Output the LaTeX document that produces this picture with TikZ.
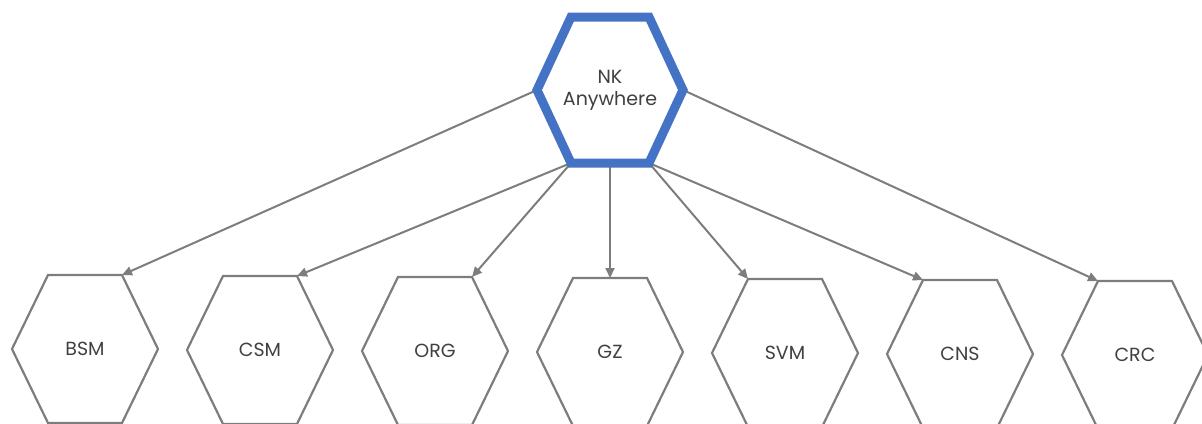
\documentclass[tikz,border=0pt]{standalone}
\usepackage{fontspec}
\setmainfont{Poppins}
\usetikzlibrary{calc,arrows.meta}
\definecolor{hexgray}{RGB}{125,125,125}
\definecolor{hexblue}{RGB}{68,114,196}
\definecolor{txtgray}{RGB}{64,64,64}
\tikzset{
  hexline/.style = {draw=hexgray, line width=2.2pt, line join=miter},
  hextext/.style = {text=txtgray, font=\fontsize{19}{22}\selectfont,
                    align=center, inner sep=0pt},
  link/.style = {draw=hexgray, line width=2pt,
                 -{Triangle[length=10pt,width=9pt]}}
}

\begin{document}
\begin{tikzpicture}[x=1pt,y=-1pt]
	\def \hexw{73} % half width
	\def \hexa{37} % half of top edge
	\def \hexh{74} % half height
	\useasboundingbox (0,0) rectangle (1202,423);

	% Top hexagon
	\node[hextext] (nk) at (610,90) {NK\\Anywhere};
	\coordinate (nk-l)  at (537,90);
	\coordinate (nk-bl) at (571,163);
	\coordinate (nk-b)  at (610,163);
	\coordinate (nk-br) at (649,163);
	\coordinate (nk-r)  at (683,90);

	% Bottom row
	\node[hextext] (bsm) at (85,349)  {BSM};
	\node[hextext] (csm) at (260,350) {CSM};
	\node[hextext] (org) at (435,351) {ORG};
	\node[hextext] (gz)  at (610,352) {GZ};
	\node[hextext] (svm) at (785,353) {SVM};
	\node[hextext] (cns) at (960,354) {CNS};
	\node[hextext] (crc) at (1135,355) {CRC};

	\draw[hexline] ($(bsm)+(-\hexw,0)$) -- ++(36,-\hexh) -- ++(74,0) -- ++(36,\hexh) -- ++(-36,\hexh) -- ++(-74,0) -- cycle;
	\draw[hexline] ($(csm)+(-\hexw,0)$) -- ++(36,-\hexh) -- ++(74,0) -- ++(36,\hexh) -- ++(-36,\hexh) -- ++(-74,0) -- cycle;
	\draw[hexline] ($(org)+(-\hexw,0)$) -- ++(36,-\hexh) -- ++(74,0) -- ++(36,\hexh) -- ++(-36,\hexh) -- ++(-74,0) -- cycle;
	\draw[hexline] ($(gz)+(-\hexw,0)$)  -- ++(36,-\hexh) -- ++(74,0) -- ++(36,\hexh) -- ++(-36,\hexh) -- ++(-74,0) -- cycle;
	\draw[hexline] ($(svm)+(-\hexw,0)$) -- ++(36,-\hexh) -- ++(74,0) -- ++(36,\hexh) -- ++(-36,\hexh) -- ++(-74,0) -- cycle;
	\draw[hexline] ($(cns)+(-\hexw,0)$) -- ++(36,-\hexh) -- ++(74,0) -- ++(36,\hexh) -- ++(-36,\hexh) -- ++(-74,0) -- cycle;
	\draw[hexline] ($(crc)+(-\hexw,0)$) -- ++(36,-\hexh) -- ++(74,0) -- ++(36,\hexh) -- ++(-36,\hexh) -- ++(-74,0) -- cycle;

	% Arrow ends
	\coordinate (bsm-in) at ($(bsm)+(\hexa,-\hexh)$);
	\coordinate (csm-in) at ($(csm)+(\hexa,-\hexh)$);
	\coordinate (org-in) at ($(org)+(\hexa,-\hexh)$);
	\coordinate (gz-in)  at ($(gz)+(0,-\hexh)$);
	\coordinate (svm-in) at ($(svm)+(-\hexa,-\hexh)$);
	\coordinate (cns-in) at ($(cns)+(-\hexa,-\hexh)$);
	\coordinate (crc-in) at ($(crc)+(-\hexa,-\hexh)$);

	% Links
	\draw[link] (nk-l)  -- (bsm-in);
	\draw[link] (nk-bl) -- (csm-in);
	\draw[link] (nk-bl) -- (org-in);
	\draw[link] (nk-b)  -- (gz-in);
	\draw[link] (nk-br) -- (svm-in);
	\draw[link] (nk-br) -- (cns-in);
	\draw[link] (nk-r)  -- (crc-in);

	% Blue outline on top of the links
	\draw[draw=hexblue, line width=9pt, line join=miter] (nk-l) -- (571,17) -- (649,17) -- (nk-r) -- (nk-br) -- (nk-bl) -- cycle;
\end{tikzpicture}
\end{document}
